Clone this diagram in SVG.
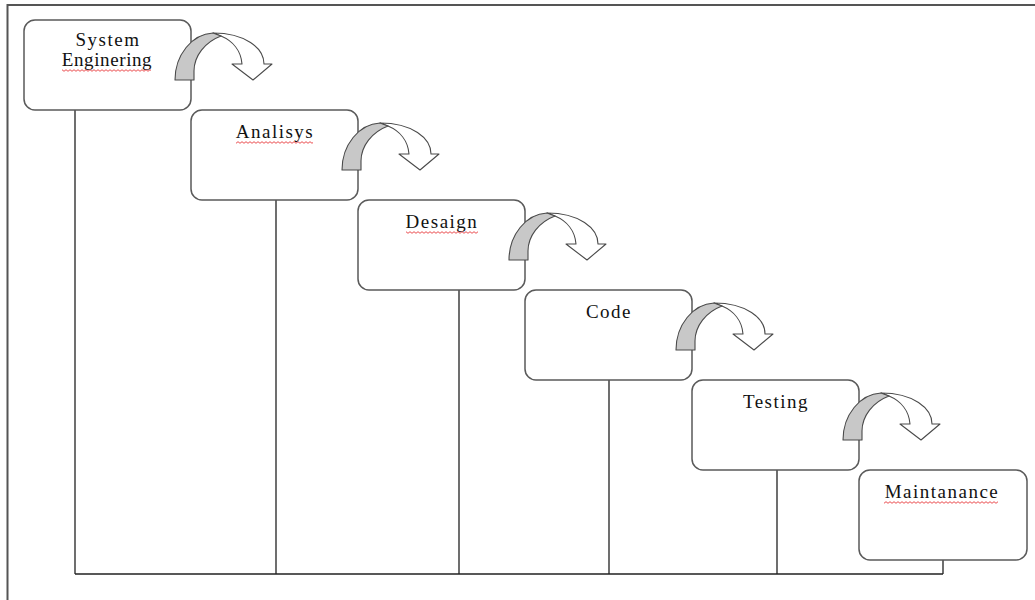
<svg xmlns="http://www.w3.org/2000/svg" xmlns:xlink="http://www.w3.org/1999/xlink" width="1035" height="600" viewBox="0 0 1035 600">
<style>
.frame{fill:none;stroke:#555;stroke-width:2}
.box{fill:#fff;stroke:#5a5a5a;stroke-width:1.5}
.ln{fill:none;stroke:#222;stroke-width:1.3}
.lbl{font-family:"Liberation Serif","Times New Roman",serif;font-size:19px;letter-spacing:1.5px;fill:#111;text-anchor:middle}
.back{fill:#c8c8c8;stroke:#4a4a4a;stroke-width:1.1;stroke-linejoin:round}
.front{fill:#fff;stroke:#4a4a4a;stroke-width:1.1;stroke-linejoin:round}
.sq{fill:url(#squig)}
</style>
<defs>
<pattern id="squig" x="0" y="0" width="4" height="3" patternUnits="userSpaceOnUse">
<path d="M0,2.3 L2,0.7 L4,2.3" fill="none" stroke="#e8393c" stroke-width="0.9"/>
</pattern>
<g id="curl">
<path class="front" d="M213,33 C245,33 264,48 264,64 L272,64 L253,80 L232,64 L242,64 C241,51 233,41 221,36 Z"/>
<path class="back" d="M175,80 C175,55 192,34 213,33 L221,36 C205,42 194,56 194,71 L194,80 Z"/>
</g>
</defs>
<rect width="1035" height="600" fill="#fff"/>
<rect class="frame" x="7.5" y="5" width="1040" height="610"/>
<g id="connectors">
<path class="ln" d="M75,110 V574 M276,200 V574 M459,290 V574 M609,380 V574 M777,470 V574 M943,560 V574 M75,574 H943"/>
</g>
<g id="system-engineering">
<rect class="box" x="24" y="20" width="167" height="90" rx="11"/>
<text class="lbl" x="108" y="45.7">System</text>
<text class="lbl" x="107" y="65.7" style="letter-spacing:0.6px">Enginering</text>
<rect class="sq" x="62" y="69" width="89" height="3"/>
</g>
<g id="analisys">
<rect class="box" x="191" y="110" width="167" height="90" rx="11"/>
<text class="lbl" x="275" y="137.7">Analisys</text>
<rect class="sq" x="236" y="141" width="77" height="3"/>
</g>
<g id="desaign">
<rect class="box" x="358" y="200" width="167" height="90" rx="11"/>
<text class="lbl" x="442" y="227.7">Desaign</text>
<rect class="sq" x="406" y="231" width="72" height="3"/>
</g>
<g id="code">
<rect class="box" x="525" y="290" width="167" height="90" rx="11"/>
<text class="lbl" x="609" y="317.7">Code</text>
</g>
<g id="testing">
<rect class="box" x="692" y="380" width="167" height="90" rx="11"/>
<text class="lbl" x="776" y="407.7">Testing</text>
</g>
<g id="maintanance">
<rect class="box" x="859" y="470" width="168" height="90" rx="11"/>
<text class="lbl" x="942" y="497.5">Maintanance</text>
<rect class="sq" x="884" y="501" width="114" height="3"/>
</g>
<g id="flow-arrows">
<use xlink:href="#curl"/>
<use xlink:href="#curl" transform="translate(167,90)"/>
<use xlink:href="#curl" transform="translate(334,180)"/>
<use xlink:href="#curl" transform="translate(501,270)"/>
<use xlink:href="#curl" transform="translate(668,360)"/>
</g>
</svg>
